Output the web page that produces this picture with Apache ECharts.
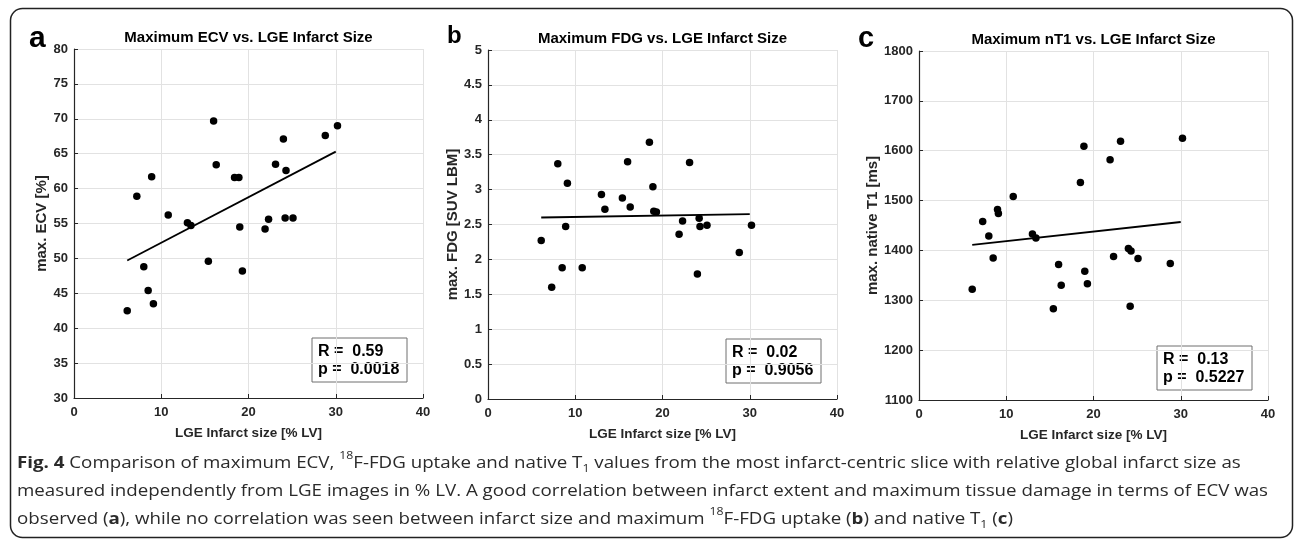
<!DOCTYPE html>
<html><head><meta charset="utf-8">
<script src="https://cdn.jsdelivr.net/npm/echarts@6/dist/echarts.min.js"></script>
<style>html,body{margin:0;padding:0;background:#fff;} #chart{width:1295px;height:540px;}</style>
</head><body><div id="chart"></div>
<script>
// ---------- data ----------
const panelLetters = ['a', 'b', 'c'];
const titles = ['Maximum ECV vs. LGE Infarct Size', 'Maximum FDG vs. LGE Infarct Size', 'Maximum nT1 vs. LGE Infarct Size'];
const xName = 'LGE Infarct size [% LV]';
const yNames = ['max. ECV [%]', 'max. FDG [SUV LBM]', 'max. native T1 [ms]'];
const xTicks = [0, 10, 20, 30, 40];
const yTicksA = [30, 35, 40, 45, 50, 55, 60, 65, 70, 75, 80];
const yTicksB = [0, 0.5, 1, 1.5, 2, 2.5, 3, 3.5, 4, 4.5, 5];
const yTicksC = [1100, 1200, 1300, 1400, 1500, 1600, 1700, 1800];

const ecvPoints = [
  [16.0, 69.7], [30.2, 69.0], [28.8, 67.6], [24.0, 67.1], [16.3, 63.4], [23.1, 63.5],
  [24.3, 62.6], [8.9, 61.7], [18.4, 61.6], [18.9, 61.6], [7.2, 58.9], [10.8, 56.2],
  [13.0, 55.1], [13.4, 54.7], [19.0, 54.5], [21.9, 54.2], [22.3, 55.6], [24.2, 55.8],
  [25.1, 55.8], [8.0, 48.8], [8.5, 45.4], [9.1, 43.5], [6.1, 42.5], [15.4, 49.6], [19.3, 48.2]
];
const fdgPoints = [
  [18.5, 3.68], [8.0, 3.37], [16.0, 3.40], [23.1, 3.39], [9.1, 3.09], [18.9, 3.04],
  [13.0, 2.93], [15.4, 2.88], [13.4, 2.72], [16.3, 2.75], [19.0, 2.69], [19.3, 2.68],
  [8.9, 2.47], [22.3, 2.55], [24.2, 2.59], [24.3, 2.47], [25.1, 2.49], [30.2, 2.49],
  [21.9, 2.36], [6.1, 2.27], [8.5, 1.88], [7.3, 1.60], [10.8, 1.88], [24.0, 1.79], [28.8, 2.10]
];
const t1Points = [
  [30.2, 1625], [23.1, 1619], [18.9, 1609], [21.9, 1582], [18.5, 1536], [10.8, 1508],
  [9.0, 1482], [9.1, 1474], [7.3, 1458], [8.0, 1429], [13.0, 1433], [13.4, 1425],
  [24.0, 1404], [24.3, 1399], [25.1, 1384], [22.3, 1388], [28.8, 1374], [8.5, 1385],
  [16.0, 1372], [19.0, 1358], [19.3, 1333], [16.3, 1330], [6.1, 1322], [24.2, 1288], [15.4, 1283]
];
const ecvFit = [[6.1, 49.7], [30.0, 65.3]];
const fdgFit = [[6.1, 2.60], [30.0, 2.65]];
const t1Fit = [[6.1, 1411], [30.0, 1457]];
const rValues = ['0.59', '0.02', '0.13'];
const pValues = ['0.0018', '0.9056', '0.5227'];

// ---------- layout / style ----------
const FONT = '"Liberation Sans", Arial, sans-serif';
const DARK = '#262626';
const grids = [
  { left: 74, top: 49, width: 349, height: 349 },
  { left: 488, top: 50, width: 349, height: 349 },
  { left: 919, top: 51, width: 349, height: 349 }
];
const yTickSets = [yTicksA, yTicksB, yTicksC];
const pointSets = [ecvPoints, fdgPoints, t1Points];
const fitSets = [ecvFit, fdgFit, t1Fit];
const yNameGaps = [18, 21, 37];
const statBoxes = [[312, 338], [726, 339], [1157, 346]];
const letterPos = [[29, 54, 30], [447, 48, 24], [858, 53, 29]];

const chart = echarts.init(document.getElementById('chart'), null, { renderer: 'canvas' });

const option = {
  animation: false,
  backgroundColor: '#fff',
  textStyle: { fontFamily: FONT },
  title: grids.map((g, i) => ({
    text: titles[i], left: g.left + g.width / 2, top: g.top - 19, textAlign: 'center', padding: 0,
    textStyle: { fontFamily: FONT, fontWeight: 'bold', fontSize: 15, color: '#000' }
  })),
  grid: grids.map(g => Object.assign({ containLabel: false }, g)),
  xAxis: grids.map((g, i) => ({
    type: 'value', gridIndex: i,
    min: xTicks[0], max: xTicks[xTicks.length - 1], interval: xTicks[1] - xTicks[0],
    name: xName, nameLocation: 'middle', nameGap: 28,
    nameTextStyle: { fontFamily: FONT, fontWeight: 'bold', fontSize: 13.5, color: DARK },
    axisLine: { show: true, onZero: false, lineStyle: { color: DARK, width: 1.2 } },
    axisTick: { show: true, inside: true, length: 4, lineStyle: { color: DARK } },
    axisLabel: { fontFamily: FONT, fontWeight: 'bold', fontSize: 13, color: DARK, margin: 8 },
    splitLine: { show: true, showMinLine: true, showMaxLine: true, lineStyle: { color: '#e2e2e2', width: 1 } }
  })),
  yAxis: grids.map((g, i) => {
    const t = yTickSets[i];
    return {
      type: 'value', gridIndex: i,
      min: t[0], max: t[t.length - 1], interval: t[1] - t[0],
      name: yNames[i], nameLocation: 'middle', nameGap: yNameGaps[i], nameRotate: 90,
      nameTextStyle: { fontFamily: FONT, fontWeight: 'bold', fontSize: 15, color: DARK },
      axisLine: { show: true, onZero: false, lineStyle: { color: DARK, width: 1.2 } },
      axisTick: { show: true, inside: true, length: 4, lineStyle: { color: DARK } },
      axisLabel: { fontFamily: FONT, fontWeight: 'bold', fontSize: 13, color: DARK, margin: 6,
                   formatter: v => String(v) },
      splitLine: { show: true, showMinLine: true, showMaxLine: true, lineStyle: { color: '#e2e2e2', width: 1 } }
    };
  }),
  series: [].concat(
    pointSets.map((d, i) => ({
      type: 'scatter', xAxisIndex: i, yAxisIndex: i, data: d,
      symbol: 'circle', symbolSize: 7.5, itemStyle: { color: '#000', opacity: 1 }, z: 3
    })),
    fitSets.map((d, i) => ({
      type: 'line', xAxisIndex: i, yAxisIndex: i, data: d,
      symbol: 'none', lineStyle: { color: '#000', width: 1.8 }, z: 2
    }))
  ),
  graphic: [].concat(
    [{ type: 'rect', shape: { x: 10.5, y: 8.5, width: 1282, height: 529, r: 12 },
       style: { fill: 'none', stroke: '#222', lineWidth: 1.5 }, z: 0 }],
    panelLetters.map((l, i) => ({
      type: 'text', z: 10,
      style: { text: l, x: letterPos[i][0], y: letterPos[i][1], textVerticalAlign: 'bottom',
               font: 'bold ' + letterPos[i][2] + 'px ' + FONT, fill: '#000' }
    })),
    statBoxes.map((p, i) => ({
      type: 'group', x: p[0], y: p[1], z: 10,
      children: [
        { type: 'rect', shape: { x: 0, y: 0, width: 95, height: 44 },
          style: { fill: '#fff', stroke: '#6e6e6e', lineWidth: 1 } },
        { type: 'text', style: { text: 'R =  ' + rValues[i], x: 6, y: 14, textVerticalAlign: 'middle',
            font: 'bold 16px ' + FONT, fill: '#000' } },
        { type: 'text', style: { text: 'p =  ' + pValues[i], x: 6, y: 32, textVerticalAlign: 'middle',
            font: 'bold 16px ' + FONT, fill: '#000' } }
      ]
    })),
    [
      { line: '{b|Fig. 4} Comparison of maximum ECV, {sup|18}F-FDG uptake and native T{sub|1} values from the most infarct-centric slice with relative global infarct size as', y: 451 },
      { line: 'measured independently from LGE images in % LV. A good correlation between infarct extent and maximum tissue damage in terms of ECV was', y: 479 },
      { line: 'observed ({b|a}), while no correlation was seen between infarct size and maximum {sup|18}F-FDG uptake ({b|b}) and native T{sub|1} ({b|c})', y: 507 }
    ].map(c => ({
      type: 'text', z: 10, x: 17, y: c.y, scaleX: 1.17,
      style: {
        text: c.line, x: 0, y: 0, textVerticalAlign: 'top',
        fontFamily: '"Open Sans", sans-serif', fontSize: 16, lineHeight: 24, fill: '#2a2a2a',
        rich: {
          b: { fontFamily: '"Open Sans", sans-serif', fontWeight: 'bold', fontSize: 16, lineHeight: 24, fill: '#2a2a2a' },
          sup: { fontFamily: '"Open Sans", sans-serif', fontSize: 10.5, lineHeight: 11, verticalAlign: 'top', fill: '#2a2a2a' },
          sub: { fontFamily: '"Open Sans", sans-serif', fontSize: 10.5, lineHeight: 11, verticalAlign: 'bottom', fill: '#2a2a2a' }
        }
      }
    }))
  )
};
chart.setOption(option);
</script>
</body></html>
